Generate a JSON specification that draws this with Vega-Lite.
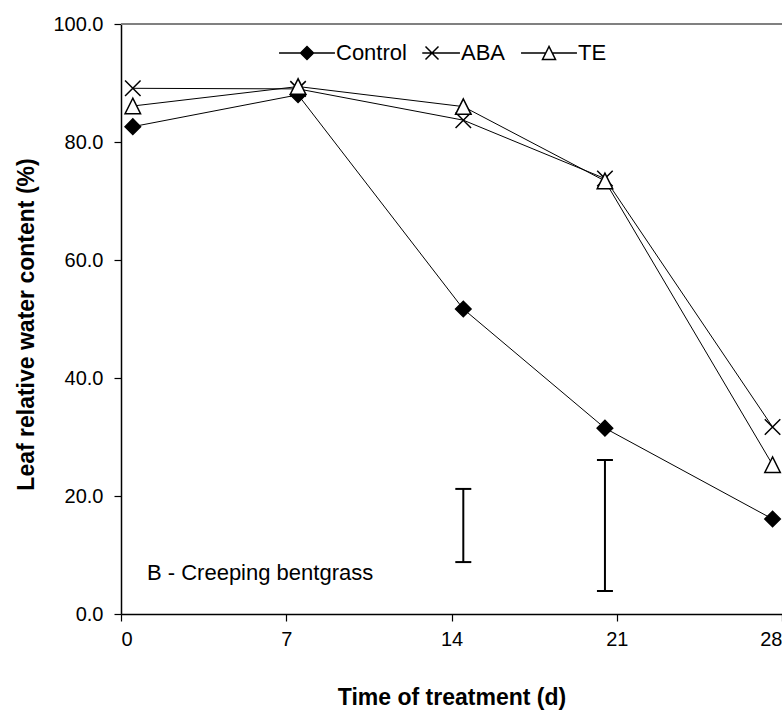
{
  "$schema": "https://vega.github.io/schema/vega-lite/v6.json",
  "width": 661,
  "height": 590,
  "autosize": {"type": "none"},
  "padding": {"left": 121, "top": 24, "right": 0, "bottom": 99},
  "background": "white",
  "config": {
    "font": "Liberation Sans",
    "view": {"stroke": null},
    "axis": {"grid": false, "domainColor": "black", "tickColor": "black", "labelColor": "black", "titleColor": "black", "labelFontSize": 20, "tickSize": 7, "tickWidth": 1.2, "domainWidth": 1.5, "titleFontSize": 23, "titleFontWeight": "bold", "titleBaseline": "alphabetic"}
  },
  "datasets": {
    "series": [
      {"day": 0.5, "rwc": 82.6, "series": "Control"},
      {"day": 7.5, "rwc": 88.0, "series": "Control"},
      {"day": 14.5, "rwc": 51.7, "series": "Control"},
      {"day": 20.5, "rwc": 31.5, "series": "Control"},
      {"day": 27.6, "rwc": 16.1, "series": "Control"},
      {"day": 0.5, "rwc": 89.1, "series": "ABA"},
      {"day": 7.5, "rwc": 89.0, "series": "ABA"},
      {"day": 14.5, "rwc": 83.7, "series": "ABA"},
      {"day": 20.5, "rwc": 73.8, "series": "ABA"},
      {"day": 27.6, "rwc": 31.7, "series": "ABA"},
      {"day": 0.5, "rwc": 86.1, "series": "TE"},
      {"day": 7.5, "rwc": 89.4, "series": "TE"},
      {"day": 14.5, "rwc": 86.0, "series": "TE"},
      {"day": 20.5, "rwc": 73.4, "series": "TE"},
      {"day": 27.6, "rwc": 25.3, "series": "TE"}
    ],
    "errors": [
      {"day": 14.5, "lo": 8.8, "hi": 21.2},
      {"day": 20.5, "lo": 3.9, "hi": 26.1}
    ]
  },
  "data": {"name": "series"},
  "resolve": {"scale": {"shape": "independent", "fill": "independent"}, "legend": {"shape": "independent", "fill": "independent"}},
  "layer": [
    {
      "data": {"name": "errors"},
      "mark": {"type": "rule", "color": "black", "strokeWidth": 2},
      "encoding": {
        "x": {"field": "day", "type": "quantitative", "scale": {"domain": [0, 28], "nice": false},
          "axis": {"values": [0, 7, 14, 21, 28], "format": "d", "labelPadding": 8, "title": "Time of treatment (d)", "titleY": 90}},
        "y": {"field": "lo", "type": "quantitative", "scale": {"domain": [0, 100], "nice": false},
          "axis": {"values": [0, 20, 40, 60, 80, 100], "format": ".1f", "labelPadding": 11, "title": "Leaf relative water content (%)", "titleAlign": "center", "titleAngle": -90, "titleX": -88, "titleY": 300}},
        "y2": {"field": "hi"}
      }
    },
    {
      "data": {"name": "errors"},
      "mark": {"type": "tick", "orient": "horizontal", "size": 16, "thickness": 2, "color": "black", "opacity": 1},
      "encoding": {
        "x": {"field": "day", "type": "quantitative", "title": "Time of treatment (d)"},
        "y": {"field": "lo", "type": "quantitative", "title": "Leaf relative water content (%)"}
      }
    },
    {
      "data": {"name": "errors"},
      "mark": {"type": "tick", "orient": "horizontal", "size": 16, "thickness": 2, "color": "black", "opacity": 1},
      "encoding": {
        "x": {"field": "day", "type": "quantitative", "title": "Time of treatment (d)"},
        "y": {"field": "hi", "type": "quantitative", "title": "Leaf relative water content (%)"}
      }
    },
    {
      "data": {"values": [{}]},
      "mark": {"type": "rule", "color": "#808080", "strokeWidth": 2},
      "encoding": {"y": {"datum": 100, "type": "quantitative", "title": "Leaf relative water content (%)"}}
    },
    {
      "mark": {"type": "line", "color": "black", "strokeWidth": 1},
      "encoding": {
        "x": {"field": "day", "type": "quantitative", "title": "Time of treatment (d)"},
        "y": {"field": "rwc", "type": "quantitative", "title": "Leaf relative water content (%)"},
        "detail": {"field": "series"}
      }
    },
    {
      "mark": {"type": "point", "opacity": 1, "stroke": "black", "strokeWidth": 1.5, "size": 240},
      "encoding": {
        "x": {"field": "day", "type": "quantitative", "title": "Time of treatment (d)"},
        "y": {"field": "rwc", "type": "quantitative", "title": "Leaf relative water content (%)"},
        "shape": {
          "field": "series", "type": "nominal",
          "scale": {"domain": ["Control", "ABA", "TE"], "range": ["diamond", "M-1,-1L1,1M-1,1L1,-1", "M0,-1L-1,1L1,1Z"]},
          "legend": null
        },
        "fill": {
          "field": "series", "type": "nominal",
          "scale": {"domain": ["Control", "ABA", "TE"], "range": ["black", "transparent", "white"]},
          "legend": null
        }
      }
    },
    {
      "transform": [{"filter": "false"}],
      "mark": {"type": "point", "opacity": 1, "stroke": "black", "strokeWidth": 1.2},
      "encoding": {
        "x": {"field": "day", "type": "quantitative", "title": "Time of treatment (d)"},
        "y": {"field": "rwc", "type": "quantitative", "title": "Leaf relative water content (%)"},
        "shape": {
          "field": "series", "type": "nominal",
          "scale": {"domain": ["Control", "ABA", "TE"], "range": ["M-4.3,0L4.3,0M-1,0L0,-1L1,0L0,1Z", "M-1.5,0L4.3,0M-1,-1L1,1M-1,1L1,-1", "M-4.3,0L-0.5,0M0.5,0L4.3,0M0,-1L-1,1L1,1Z"]},
          "legend": {
            "title": null, "orient": "none", "legendX": 175, "legendY": 18, "direction": "horizontal",
            "padding": 0, "labelFontSize": 22, "labelColor": "black", "symbolSize": 169, "labelOffset": 18,
            "columnPadding": 12
          }
        },
        "fill": {
          "field": "series", "type": "nominal",
          "scale": {"domain": ["Control", "ABA", "TE"], "range": ["black", "transparent", "white"]},
          "legend": {
            "title": null, "orient": "none", "legendX": 175, "legendY": 18, "direction": "horizontal",
            "padding": 0, "labelFontSize": 22, "labelColor": "black", "symbolSize": 169, "labelOffset": 18,
            "columnPadding": 12
          }
        }
      }
    },
    {
      "data": {"values": [{}]},
      "mark": {"type": "text", "align": "left", "baseline": "middle", "fontSize": 22, "color": "black"},
      "encoding": {
        "x": {"datum": 1.1, "type": "quantitative", "title": "Time of treatment (d)"},
        "y": {"datum": 7, "type": "quantitative", "title": "Leaf relative water content (%)"},
        "text": {"value": "B - Creeping bentgrass"}
      }
    }
  ]
}
